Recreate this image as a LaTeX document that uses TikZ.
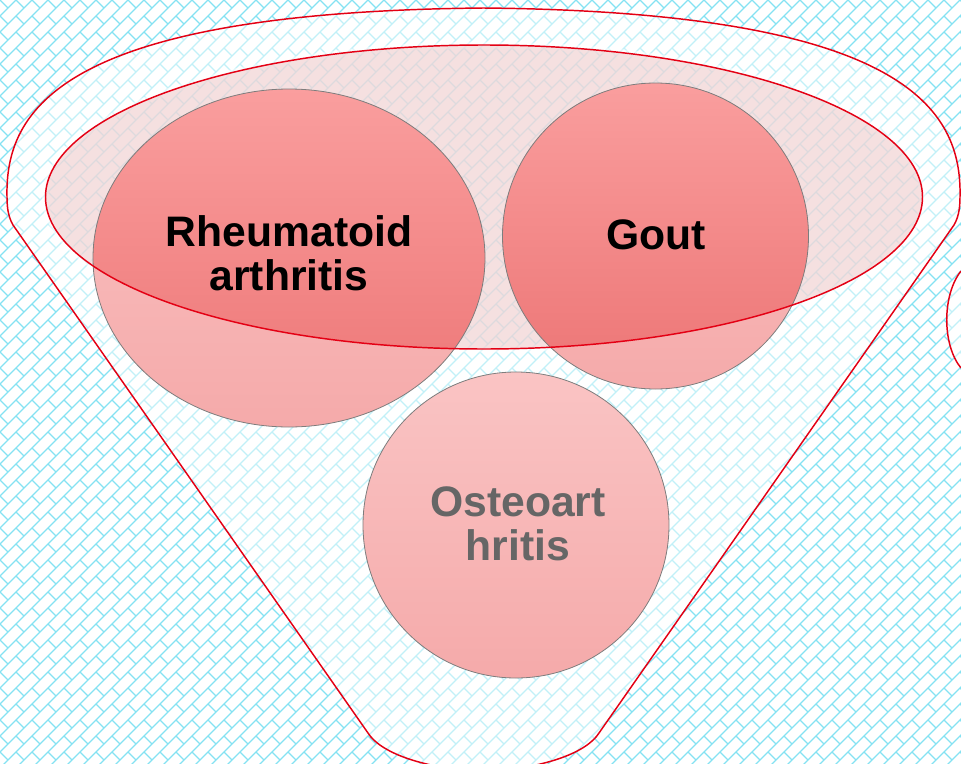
\documentclass[tikz,border=0pt]{standalone}
\usepackage{fontspec}
\setmainfont{Liberation Sans}
\usetikzlibrary{positioning}
\definecolor{brick}{RGB}{133,226,242}
\definecolor{rim}{RGB}{228,0,20}
\definecolor{bowlpink}{RGB}{240,204,204}
\definecolor{ring}{RGB}{125,125,125}
\definecolor{oagray}{RGB}{102,102,102}
\newcommand{\funnelpath}{(7,197) .. controls (5,110) and (60,12) .. (483.5,8)
  .. controls (907,12) and (962,110) .. (960,197) .. controls (960,210) and (958,218) .. (954,225)
  -- (599,733) .. controls (587,752) and (547,768) .. (483.5,772)
  .. controls (420,768) and (380,752) .. (368,733) -- (13,225)
  .. controls (9,218) and (7,210) .. (7,197) -- cycle}
\newcommand{\bowlpath}{(484,197) ellipse [x radius=438.5, y radius=152]}
\newcommand{\rapath}{(289,258) ellipse [x radius=196, y radius=169]}
\newcommand{\goutpath}{(655.5,236) circle [radius=153]}
\newcommand{\oapath}{(516,525) circle [radius=153]}

\begin{document}
\begin{tikzpicture}[x=0.75pt,y=-0.75pt,
  lbl/.style={font=\bfseries\fontsize{32}{33}\selectfont,align=center},
  redline/.style={draw=rim,line width=1.1pt},
  disc/.style={top color={rgb,255:red,250;green,196;blue,196},bottom color={rgb,255:red,245;green,170;blue,170}},
  darkdisc/.style={top color={rgb,255:red,250;green,158;blue,158},bottom color={rgb,255:red,236;green,116;blue,116}}]
\useasboundingbox (0,0) rectangle (961,764);
% brick background
\begin{scope}
\clip (0,0) rectangle (961,764);
\foreach \c in {0,16,...,1744}
  \draw[brick,line width=0.9pt] (\c+40,-40) -- (\c-840,840);
\foreach \d in {-800,-784,...,976}
  \draw[brick,line width=0.9pt,dash pattern=on 8.485pt off 8.485pt] (\d-32,-32) -- (\d+800,800);
\end{scope}
% funnel and the edge of the next one
\fill[white,opacity=.5] \funnelpath;
\draw[redline] \funnelpath;
\fill[white,opacity=.5] (961,271) .. controls (942,295) and (942,345) .. (961,368) -- cycle;
\draw[redline] (961,271) .. controls (942,295) and (942,345) .. (961,368);
% bowl
\draw[white,line width=5pt,opacity=.5] \bowlpath;
\fill[bowlpink,opacity=.6] \bowlpath;
% discs
\foreach \p in {\rapath,\goutpath,\oapath}
  \shade[disc] \p;
\begin{scope}
\clip \bowlpath;
\shade[darkdisc] \rapath;
\shade[darkdisc] \goutpath;
\end{scope}
\foreach \p in {\rapath,\goutpath,\oapath}
  \draw[ring,line width=0.6pt] \p;
\draw[redline] \bowlpath;
% labels
\node[lbl] (ra) at (289,253) {Rheumatoid\\arthritis};
\node[lbl] (gout) at (656,235) {Gout};
\node[lbl,text=oagray] (oa) at (518,524) {Osteoart\\hritis};
\end{tikzpicture}
\end{document}
